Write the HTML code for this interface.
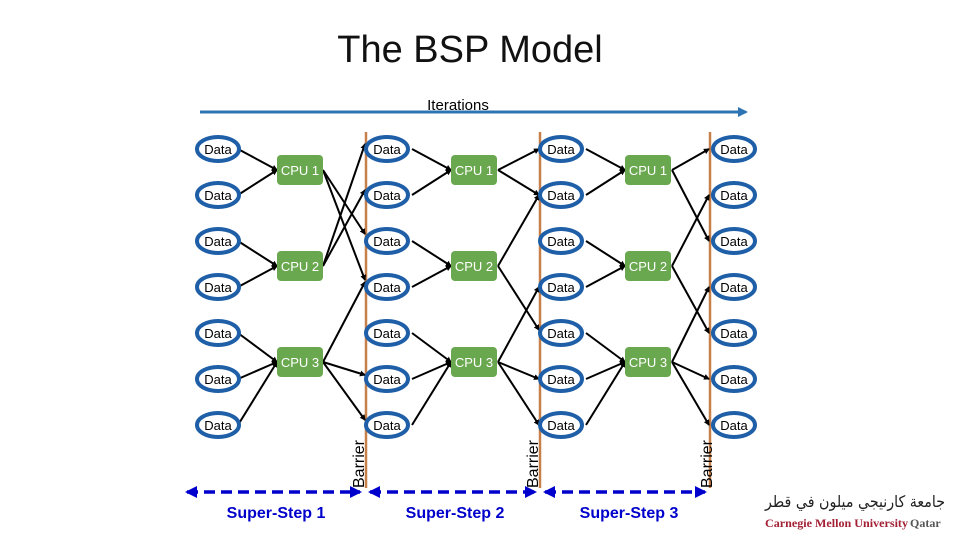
<!DOCTYPE html>
<html><head><meta charset="utf-8"><style>
body{margin:0;background:#fff;width:960px;height:540px;overflow:hidden}
</style></head><body>
<svg width="960" height="540" xmlns="http://www.w3.org/2000/svg" font-family="Liberation Sans, DejaVu Sans, sans-serif">
<defs>
<marker id="a" markerWidth="6" markerHeight="6" refX="5" refY="3" orient="auto" markerUnits="userSpaceOnUse"><path d="M0,0L6,3L0,6z" fill="#000"/></marker>
<marker id="b" markerWidth="10" markerHeight="10" refX="8" refY="5" orient="auto" markerUnits="userSpaceOnUse"><path d="M0,0L10,5L0,10z" fill="#2e74b5"/></marker>
<marker id="d" markerWidth="12" markerHeight="12" refX="10" refY="6" orient="auto-start-reverse" markerUnits="userSpaceOnUse"><path d="M0,0L12,6L0,12z" fill="#0000cc"/></marker>
</defs>
<text x="470" y="62" font-size="38" text-anchor="middle" fill="#111" font-weight="300">The BSP Model</text>
<text x="458" y="110" font-size="15" text-anchor="middle" fill="#000">Iterations</text>
<line x1="200" y1="112" x2="746" y2="112" stroke="#2e74b5" stroke-width="3" marker-end="url(#b)"/>
<g stroke="#c8804a" stroke-width="2.5">
<line x1="366" y1="132" x2="366" y2="488"/><line x1="540" y1="132" x2="540" y2="488"/><line x1="710" y1="132" x2="710" y2="488"/>
</g>
<g font-size="16" fill="#000">
<text transform="translate(364,488) rotate(-90)">Barrier</text>
<text transform="translate(538,488) rotate(-90)">Barrier</text>
<text transform="translate(712,488) rotate(-90)">Barrier</text>
</g>
<g stroke="#000" stroke-width="2" marker-end="url(#a)">
<line x1="238" y1="149" x2="277" y2="170"/><line x1="238" y1="195" x2="277" y2="170"/>
<line x1="238" y1="241" x2="277" y2="266"/><line x1="238" y1="287" x2="277" y2="266"/>
<line x1="238" y1="333" x2="277" y2="362"/><line x1="238" y1="379" x2="277" y2="362"/><line x1="238" y1="425" x2="277" y2="362"/>
<line x1="323" y1="170" x2="365" y2="234"/><line x1="323" y1="170" x2="365" y2="280"/>
<line x1="323" y1="266" x2="365" y2="144"/><line x1="323" y1="266" x2="365" y2="190"/>
<line x1="323" y1="362" x2="365" y2="282"/><line x1="323" y1="362" x2="365" y2="375"/><line x1="323" y1="362" x2="365" y2="420"/>
<line x1="412" y1="149" x2="451" y2="170"/><line x1="412" y1="195" x2="451" y2="170"/>
<line x1="412" y1="241" x2="451" y2="266"/><line x1="412" y1="287" x2="451" y2="266"/>
<line x1="412" y1="333" x2="451" y2="362"/><line x1="412" y1="379" x2="451" y2="362"/><line x1="412" y1="425" x2="451" y2="362"/>
<line x1="498" y1="170" x2="539" y2="149"/><line x1="498" y1="170" x2="539" y2="195"/>
<line x1="498" y1="266" x2="539" y2="195"/><line x1="498" y1="266" x2="539" y2="330"/>
<line x1="498" y1="362" x2="539" y2="287"/><line x1="498" y1="362" x2="539" y2="379"/><line x1="498" y1="362" x2="539" y2="425"/>
<line x1="586" y1="149" x2="625" y2="170"/><line x1="586" y1="195" x2="625" y2="170"/>
<line x1="586" y1="241" x2="625" y2="266"/><line x1="586" y1="287" x2="625" y2="266"/>
<line x1="586" y1="333" x2="625" y2="362"/><line x1="586" y1="379" x2="625" y2="362"/><line x1="586" y1="425" x2="625" y2="362"/>
<line x1="672" y1="170" x2="709" y2="149"/><line x1="672" y1="170" x2="709" y2="241"/>
<line x1="672" y1="266" x2="709" y2="195"/><line x1="672" y1="266" x2="709" y2="333"/>
<line x1="672" y1="362" x2="709" y2="287"/><line x1="672" y1="362" x2="709" y2="379"/><line x1="672" y1="362" x2="709" y2="425"/>
</g>
<g fill="#fff" stroke="#1f5fa8" stroke-width="4">
<g id="col">
<ellipse cx="218" cy="149" rx="21" ry="12"/><ellipse cx="218" cy="195" rx="21" ry="12"/><ellipse cx="218" cy="241" rx="21" ry="12"/><ellipse cx="218" cy="287" rx="21" ry="12"/><ellipse cx="218" cy="333" rx="21" ry="12"/><ellipse cx="218" cy="379" rx="21" ry="12"/><ellipse cx="218" cy="425" rx="21" ry="12"/>
</g>
<use href="#col" x="169"/><use href="#col" x="343"/><use href="#col" x="516"/>
</g>
<g font-size="13" fill="#000" text-anchor="middle">
<g id="ct">
<text x="218" y="154">Data</text><text x="218" y="200">Data</text><text x="218" y="246">Data</text><text x="218" y="292">Data</text><text x="218" y="338">Data</text><text x="218" y="384">Data</text><text x="218" y="430">Data</text>
</g>
<use href="#ct" x="169"/><use href="#ct" x="343"/><use href="#ct" x="516"/>
</g>
<g fill="#6aa84f">
<g id="cp"><rect x="277" y="155" width="46" height="30" rx="4"/><rect x="277" y="251" width="46" height="30" rx="4"/><rect x="277" y="347" width="46" height="30" rx="4"/></g>
<use href="#cp" x="174"/><use href="#cp" x="348"/>
</g>
<g font-size="13" fill="#fff" text-anchor="middle">
<g id="cpt"><text x="300" y="175">CPU 1</text><text x="300" y="271">CPU 2</text><text x="300" y="367">CPU 3</text></g>
<use href="#cpt" x="174"/><use href="#cpt" x="348"/>
</g>
<g stroke="#0000cc" stroke-width="3.5" stroke-dasharray="11,6" marker-start="url(#d)" marker-end="url(#d)">
<line x1="187" y1="492" x2="360" y2="492"/><line x1="370" y1="492" x2="535" y2="492"/><line x1="545" y1="492" x2="705" y2="492"/>
</g>
<g font-size="16" font-weight="bold" fill="#0000cc" text-anchor="middle">
<text x="276" y="518">Super-Step 1</text><text x="455" y="518">Super-Step 2</text><text x="629" y="518">Super-Step 3</text>
</g>
<text x="855" y="507" font-size="16" fill="#222" text-anchor="middle" textLength="180" lengthAdjust="spacingAndGlyphs" font-family="DejaVu Sans, sans-serif">جامعة كارنيجي ميلون في قطر</text>
<text x="765" y="527" font-size="12" fill="#a31f34" font-family="Liberation Serif, serif" font-weight="bold" textLength="143" lengthAdjust="spacingAndGlyphs">Carnegie Mellon University</text>
<text x="910" y="527" font-size="12" fill="#555" font-family="Liberation Serif, serif" font-weight="bold">Qatar</text>
</svg>
</body></html>
